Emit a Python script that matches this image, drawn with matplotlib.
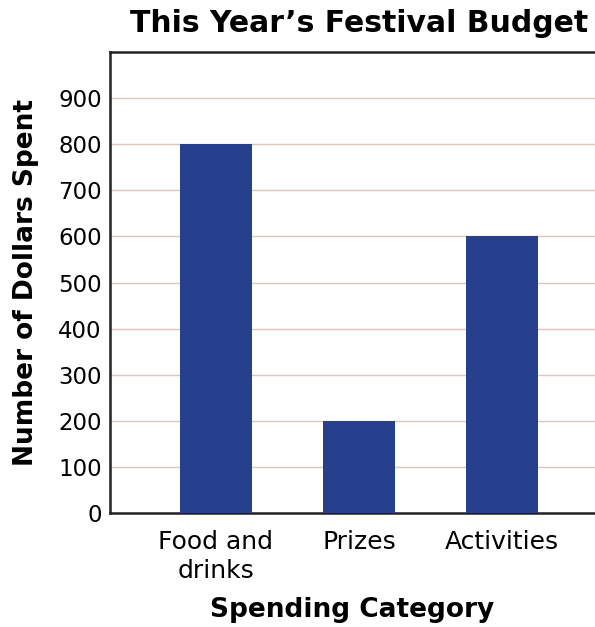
import matplotlib
matplotlib.use("Agg")
import matplotlib.pyplot as plt

categories = ["Food and\ndrinks", "Prizes", "Activities"]
values = [800, 200, 600]
yticks = [0, 100, 200, 300, 400, 500, 600, 700, 800, 900]

plt.rcParams['font.family'] = ['DejaVu Sans']

fig = plt.figure(figsize=(5.95, 6.27), dpi=100)
ax = fig.add_axes([110/595, 1 - 513/627, 1 - 110/595, (513 - 52)/627])

x = list(range(len(categories)))
ax.bar(x, values, width=0.5, color="#26408e", zorder=3)
ax.set_xlim(-0.741, 2.65)
ax.set_ylim(0, 1000)
ax.set_yticks(yticks)
ax.set_yticklabels([str(v) for v in yticks], fontsize=16.5)
ax.set_xticks(x)
ax.set_xticklabels(categories, fontsize=18, linespacing=1.3)
ax.tick_params(axis="y", length=0, pad=6)
ax.tick_params(axis="x", length=0, pad=12)
ax.yaxis.grid(True, color="#dcc6be", linewidth=1.0, zorder=0)
for s in ["left", "bottom", "top"]:
    ax.spines[s].set_linewidth(1.8)
    ax.spines[s].set_color("#222222")
ax.spines["right"].set_visible(False)

ax.set_ylabel("Number of Dollars Spent", fontsize=19, fontweight="bold", labelpad=14)
ax.set_xlabel("Spending Category", fontsize=19, fontweight="bold", labelpad=10)
fig.text(359/595, 1 - 23/627, "This Year\u2019s Festival Budget", fontsize=21.5,
         fontweight="bold", ha="center", va="center")

fig.savefig("out.png", dpi=100)
